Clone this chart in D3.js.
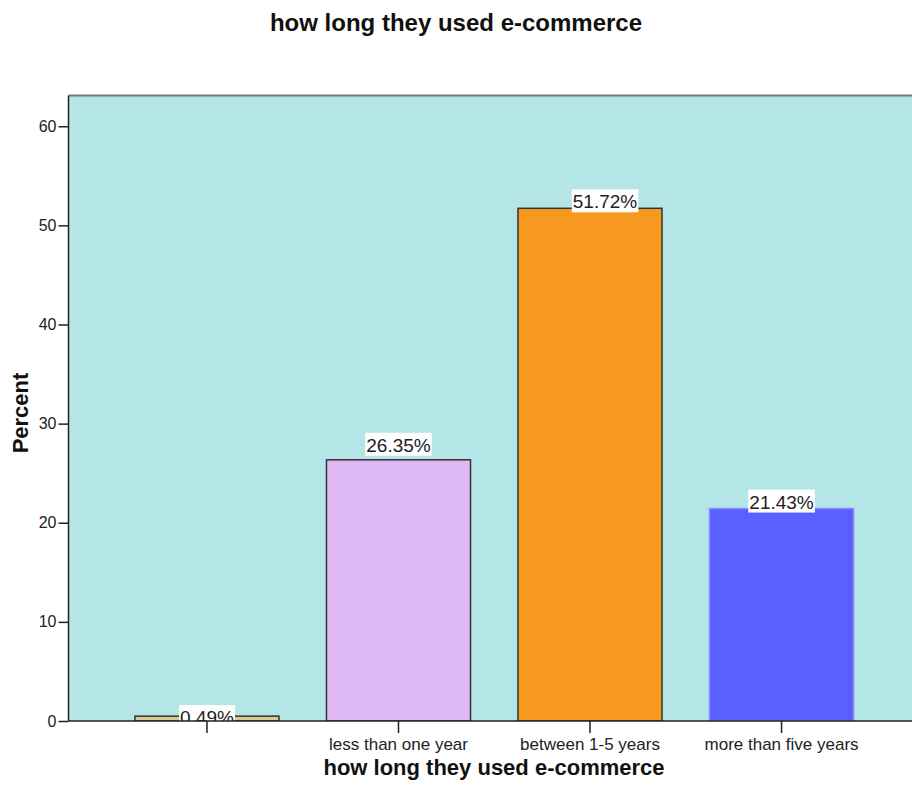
<!DOCTYPE html>
<html>
<head>
<meta charset="utf-8">
<script src="https://cdn.jsdelivr.net/npm/d3@7"></script>
<style>
  body { margin: 0; background: #fff; }
  text { font-family: "Liberation Sans", Arial, sans-serif; }
</style>
</head>
<body>
<div class="canvas"></div>
<script>
const categories = ["", "less than one year", "between 1-5 years", "more than five years"]
const percents = [0.49, 26.35, 51.72, 21.43]
const labels = ["0.49%", "26.35%", "51.72%", "21.43%"]
const yTicks = [0, 10, 20, 30, 40, 50, 60]

const colors = ["#d7cb93", "#dfb9f3", "#f7981f", "#5c5fff"]
const strokes = ["#333", "#333", "#333", "#8a8cff"]

const width = 912, height = 803
const plotLeft = 68.5, plotTop = 95.5, plotBottom = 721

const svg = d3
  .select(".canvas")
  .append("svg")
  .attr("width", width)
  .attr("height", height)

const y = d3.scaleLinear().domain([0, 63.1]).range([plotBottom, plotTop])
const x = d3
  .scaleBand()
  .domain(categories)
  .range([plotLeft, 920])
  .paddingInner(0.248)
  .paddingOuter(0.347)

svg.append("clipPath").attr("id", "plotclip")
  .append("rect")
  .attr("x", plotLeft).attr("y", plotTop)
  .attr("width", 920 - plotLeft).attr("height", plotBottom - plotTop)

// plot background
svg.append("rect")
  .attr("x", plotLeft)
  .attr("y", plotTop)
  .attr("width", 920 - plotLeft)
  .attr("height", plotBottom - plotTop)
  .attr("fill", "#b4e5e7")

// top frame line
svg.append("line")
  .attr("x1", plotLeft).attr("x2", width)
  .attr("y1", plotTop).attr("y2", plotTop)
  .attr("stroke", "#6e7b7e")
  .attr("stroke-width", 2)

const plot = svg.append("g").attr("clip-path", "url(#plotclip)")

// bars
plot.selectAll("rect.bar")
  .data(percents)
  .enter()
  .append("rect")
  .attr("class", "bar")
  .attr("x", (d, i) => x(categories[i]))
  .attr("y", d => y(d))
  .attr("width", x.bandwidth())
  .attr("height", d => plotBottom - y(d))
  .attr("fill", (d, i) => colors[i])
  .attr("stroke", (d, i) => strokes[i])
  .attr("stroke-width", 1.5)

// value labels (small placement tweaks like the original)
const labelDx = [0, 0, 15, 0]
const labelDy = [-11, -27, -19, -19]
const lab = plot.selectAll("g.lab")
  .data(percents)
  .enter()
  .append("g")
  .attr("class", "lab")
  .attr("transform", (d, i) =>
    `translate(${x(categories[i]) + x.bandwidth() / 2 + labelDx[i]},${y(d) + labelDy[i]})`)
lab.append("text")
  .attr("text-anchor", "middle")
  .attr("y", 19)
  .style("font-size", "19px")
  .attr("fill", "#222")
  .text((d, i) => labels[i])
  .each(function () {
    const b = this.getBBox()
    d3.select(this.parentNode).insert("rect", "text")
      .attr("x", b.x - 1)
      .attr("y", 0)
      .attr("width", b.width + 2)
      .attr("height", 23)
      .attr("fill", "#fff")
  })

// y axis
const yAxis = svg.append("g")
  .attr("transform", `translate(${plotLeft},0)`)
  .call(d3.axisLeft(y).tickValues(yTicks).tickSize(10).tickPadding(2))
yAxis.selectAll("text").style("font-size", "16px").attr("fill", "#222")
yAxis.selectAll("line, path").attr("stroke", "#222").attr("stroke-width", 1.5)
yAxis.select(".domain").attr("d", `M0,${plotBottom}V${plotTop}`)

// x axis
const xAxis = svg.append("g")
  .attr("transform", `translate(0,${plotBottom})`)
  .call(d3.axisBottom(x).tickSize(12).tickPadding(5))
xAxis.selectAll("text").style("font-size", "17px").attr("fill", "#222")
xAxis.selectAll("line, path").attr("stroke", "#222").attr("stroke-width", 1.5)
xAxis.select(".domain").attr("d", `M${plotLeft},0H${width}`)

// titles
svg.append("text")
  .attr("x", 456).attr("y", 31)
  .attr("text-anchor", "middle")
  .style("font-size", "24px").style("font-weight", "bold")
  .attr("fill", "#111")
  .text("how long they used e-commerce")

svg.append("text")
  .attr("x", 494).attr("y", 775)
  .attr("text-anchor", "middle")
  .style("font-size", "22px").style("font-weight", "bold")
  .attr("fill", "#111")
  .text("how long they used e-commerce")

svg.append("text")
  .attr("transform", "translate(28,413) rotate(-90)")
  .attr("text-anchor", "middle")
  .style("font-size", "22px").style("font-weight", "bold")
  .attr("fill", "#111")
  .text("Percent")
</script>
</body>
</html>
